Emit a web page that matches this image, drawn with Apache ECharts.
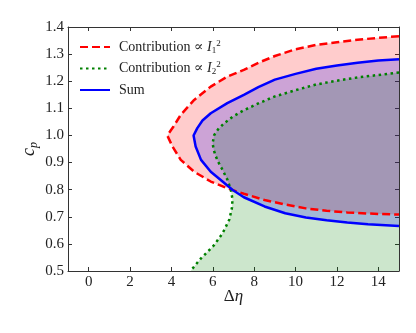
<!DOCTYPE html>
<html>
<head>
<meta charset="utf-8">
<script src="https://cdn.jsdelivr.net/npm/echarts@6.0.0/dist/echarts.min.js"></script>
<style>
  html, body { margin: 0; padding: 0; background: #ffffff; }
  #chart { width: 416px; height: 333px; }
</style>
</head>
<body>
<div id="chart"></div>
<script>
// ---- Data ----
const X_MIN = -1, X_MAX = 15;
const Y_MIN = 0.5, Y_MAX = 1.4;
const xTickValues = [0, 2, 4, 6, 8, 10, 12, 14];

// Contribution ∝ I1^2 (red dashed): upper branch from right to vertex, then lower branch back to right
const redX = [15, 14, 13, 12, 11, 10, 9, 8.2, 7.5, 6.7, 5.9, 5.1, 4.45, 4.1, 3.8,
              4.05, 4.45, 5.1, 5.9, 6.7, 7.5, 8.5, 9.5, 10.5, 11.5, 12.5, 13.5, 15];
const redY = [1.366, 1.360, 1.353, 1.344, 1.334, 1.318, 1.293, 1.268, 1.242, 1.217, 1.180, 1.131, 1.076, 1.033, 1.0,
              0.959, 0.910, 0.866, 0.830, 0.805, 0.785, 0.762, 0.745, 0.731, 0.722, 0.716, 0.712, 0.708];

// Contribution ∝ I2^2 (green dotted): from top right, round the left bend, down to the bottom edge
const greenX = [15, 14, 13, 12, 11, 10, 9, 8.2, 7.5, 6.96, 6.55, 6.25, 6.07, 5.99, 6.05, 6.15, 6.3, 6.47,
                6.71, 6.87, 6.95, 6.93, 6.8, 6.47, 6.07, 5.43, 4.92];
const greenY = [1.232, 1.223, 1.214, 1.202, 1.188, 1.167, 1.144, 1.118, 1.093, 1.069, 1.045, 1.022, 1.002, 0.971, 0.945, 0.922, 0.897, 0.873,
                0.836, 0.800, 0.765, 0.735, 0.690, 0.639, 0.596, 0.547, 0.5];

// Sum (blue solid)
const sumX = [15, 14, 13, 12, 11, 10, 9, 8.2, 7.5, 6.7, 5.9, 5.5, 5.25, 5.07,
              5.17, 5.43, 5.9, 6.47, 6.96, 7.5, 8.5, 9.5, 10.5, 11.5, 12.5, 13.5, 15];
const sumY = [1.281, 1.276, 1.268, 1.258, 1.246, 1.227, 1.206, 1.178, 1.150, 1.119, 1.082, 1.055, 1.027, 1.0,
              0.959, 0.910, 0.866, 0.830, 0.799, 0.772, 0.738, 0.713, 0.697, 0.687, 0.679, 0.672, 0.666];

const names = ['Contribution ∝ I1', 'Contribution ∝ I2', 'Sum'];

// ---- Chart ----
const serif = '"Liberation Serif", "DejaVu Serif", serif';
const zip = (xs, ys) => xs.map((x, i) => [x, ys[i]]);

function polygonSeries(xs, ys, extra, fill) {
  return {
    type: 'custom',
    silent: true,
    clip: true,
    data: [[xs[0], ys[0]]],
    encode: { x: 0, y: 1 },
    renderItem: function (params, api) {
      if (params.dataIndex !== 0) return null;
      const pts = xs.map((x, i) => api.coord([x, ys[i]]));
      extra.forEach(p => pts.push(api.coord(p)));
      return { type: 'polygon', shape: { points: pts }, style: { fill: fill } };
    },
    z: 1
  };
}

function lineSeries(name, xs, ys, color, type) {
  return {
    name: name,
    type: 'line',
    data: zip(xs, ys),
    symbol: 'none',
    showSymbol: false,
    smooth: false,
    clip: true,
    lineStyle: { color: color, width: 2.5, type: type, cap: 'butt' },
    itemStyle: { color: color },
    z: 3
  };
}

const axisCommon = {
  type: 'value',
  splitLine: { show: false },
  axisLine: { show: true, onZero: false, lineStyle: { color: '#333', width: 1 } },
  axisTick: { show: true, inside: true, length: 4, lineStyle: { color: '#333' } },
};

const legendRich = {
  t: { fontFamily: serif, fontSize: 14, color: '#222', lineHeight: 16 },
  i: { fontFamily: serif, fontSize: 14, fontStyle: 'italic', color: '#222', lineHeight: 16 },
  sub: { fontFamily: serif, fontSize: 9, color: '#222', verticalAlign: 'bottom', lineHeight: 16 },
  sup: { fontFamily: serif, fontSize: 9, color: '#222', verticalAlign: 'top', lineHeight: 16 }
};

const chart = echarts.init(document.getElementById('chart'), null, { renderer: 'canvas' });
chart.setOption({
  animation: false,
  backgroundColor: '#ffffff',
  grid: { left: 68, right: 17, top: 27, bottom: 62, containLabel: false, outerBoundsMode: 'none' },
  legend: {
    data: names,
    orient: 'vertical',
    left: 74,
    top: 34,
    padding: 5,
    itemWidth: 30,
    itemHeight: 14,
    itemGap: 5.5,
    itemStyle: { opacity: 0 },
    textStyle: { fontFamily: serif, fontSize: 14, color: '#222', padding: [0, 0, 0, 4], lineHeight: 16, rich: legendRich },
    formatter: function (name) {
      if (name === names[0]) return '{t|Contribution ∝ }{i|I}{sub|1}{sup|2}';
      if (name === names[1]) return '{t|Contribution ∝ }{i|I}{sub|2}{sup|2}';
      return '{t|Sum}';
    }
  },
  xAxis: [
    Object.assign({}, axisCommon, {
      min: X_MIN, max: X_MAX, position: 'bottom',
      name: '{d|Δ}{e|η}', nameLocation: 'middle', nameGap: 17, nameMoveOverlap: false,
      nameTextStyle: { rich: {
        d: { fontFamily: serif, fontSize: 17, color: '#222' },
        e: { fontFamily: serif, fontSize: 17, fontStyle: 'italic', color: '#222' }
      } },
      axisTick: Object.assign({}, axisCommon.axisTick, { customValues: xTickValues }),
      axisLabel: { customValues: xTickValues, fontFamily: serif, fontSize: 15, color: '#222', margin: 4 }
    }),
    Object.assign({}, axisCommon, {
      min: X_MIN, max: X_MAX, position: 'top',
      axisTick: Object.assign({}, axisCommon.axisTick, { customValues: xTickValues }),
      axisLabel: { show: false }
    })
  ],
  yAxis: [
    Object.assign({}, axisCommon, {
      min: Y_MIN, max: Y_MAX, interval: 0.1, position: 'left',
      name: '{c|c}{p|p}', nameLocation: 'middle', nameGap: 28, nameRotate: 90, nameMoveOverlap: false,
      nameTextStyle: { rich: {
        c: { fontFamily: serif, fontSize: 18, fontStyle: 'italic', color: '#222' },
        p: { fontFamily: serif, fontSize: 12, fontStyle: 'italic', color: '#222', verticalAlign: 'bottom', lineHeight: 22 }
      } },
      axisLabel: { fontFamily: serif, fontSize: 15, color: '#222', margin: 4,
        formatter: v => v.toFixed(1) }
    }),
    Object.assign({}, axisCommon, {
      min: Y_MIN, max: Y_MAX, interval: 0.1, position: 'right',
      axisLabel: { show: false }
    })
  ],
  series: [
    polygonSeries(redX, redY, [], 'rgba(255,0,0,0.2)'),
    polygonSeries(greenX, greenY, [[X_MAX, Y_MIN]], 'rgba(0,128,0,0.2)'),
    polygonSeries(sumX, sumY, [], 'rgba(0,0,255,0.2)'),
    lineSeries(names[0], redX, redY, '#ff0000', [8, 4]),
    lineSeries(names[1], greenX, greenY, '#008000', [2.5, 3.5]),
    lineSeries(names[2], sumX, sumY, '#0000ff', 'solid')
  ]
});
</script>
</body>
</html>
